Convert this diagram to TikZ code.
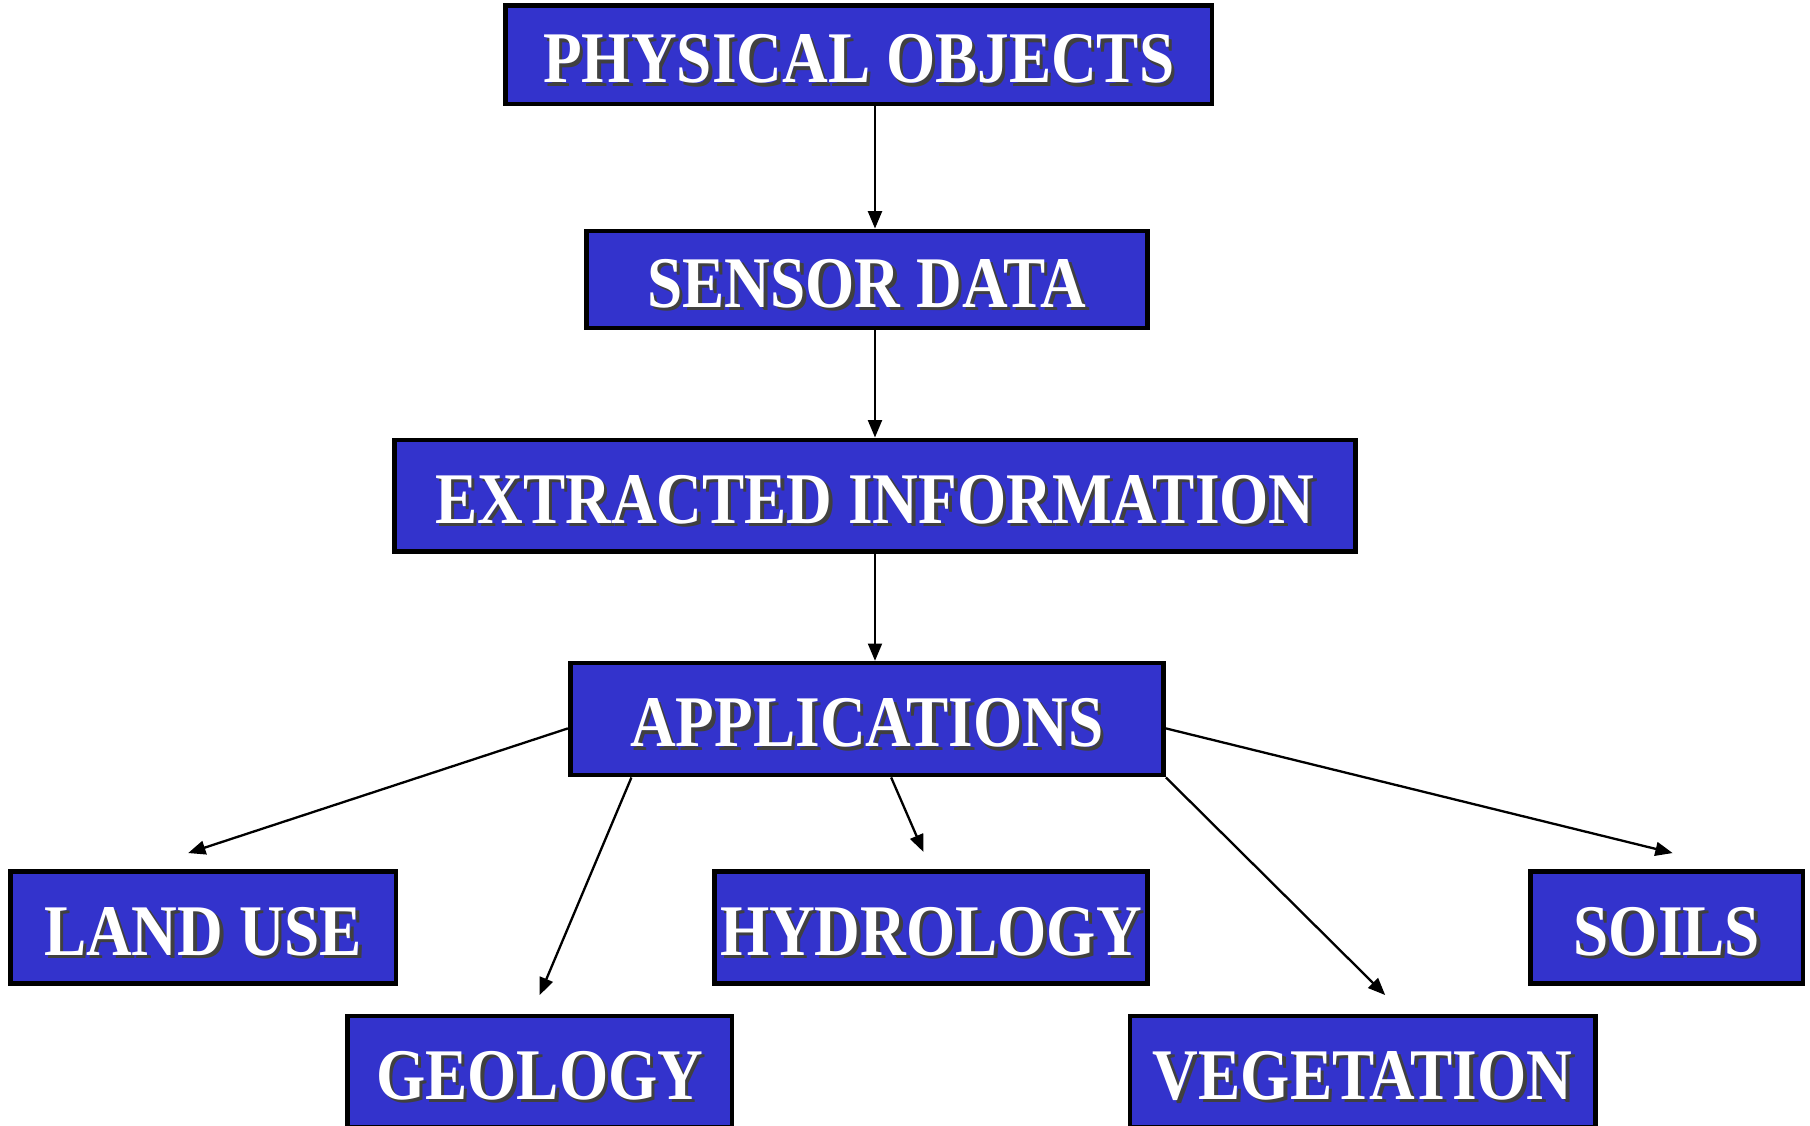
\documentclass[tikz,border=0pt]{standalone}
\usepackage{fontspec}
\newfontfamily\boxfont{Liberation Serif}[FakeStretch=0.87]
\usepackage{tikz}
\usetikzlibrary{arrows.meta,positioning,calc}
\definecolor{slideblue}{RGB}{51,51,204}
\newcommand{\shtxt}[1]{\makebox[0pt][l]{\hspace{1.5pt}\raisebox{-1.5pt}{\color{black!75}#1}}#1}

\begin{document}
\begin{tikzpicture}[x=0.5pt, y=-0.5pt,
    box/.style={draw=black, line width=2pt, fill=slideblue, text=white, inner sep=0pt, minimum height=48.5pt, text height=26pt, text depth=2pt, font=\boxfont\bfseries\fontsize{31.5pt}{32pt}\selectfont},
    arr/.style={-{Triangle[length=7.5pt,width=6pt]}, line width=1pt}
]
\useasboundingbox (0,0) rectangle (1568,975);

\node[box, minimum width=306pt, minimum height=42.5pt] (po) at (744,47.5) {\shtxt{PHYSICAL OBJECTS}};
\node[box, minimum width=243pt, minimum height=42pt] (sd) at (751,242) {\shtxt{SENSOR DATA}};
\node[box, minimum width=416pt] (ei) at (758,429.5) {\shtxt{EXTRACTED INFORMATION}};
\node[box, minimum width=257pt] (app) at (751,623) {\shtxt{APPLICATIONS}};

\node[box, minimum width=167pt] (lu) at (176,803.5) {\shtxt{LAND USE}};
\node[box, minimum width=166.5pt] (geo) at (467.5,928.5) {\shtxt{GEOLOGY}};
\node[box, minimum width=187.5pt] (hy) at (806.5,803.5) {\shtxt{HYDROLOGY}};
\node[box, minimum width=201.5pt] (veg) at (1180.5,928.5) {\shtxt{VEGETATION}};
\node[box, minimum width=118pt] (so) at (1444,803.5) {\shtxt{SOILS}};

% down the middle
\draw[arr] (po.south -| ei) -- (sd.north -| ei);
\draw[arr] (sd.south -| ei) -- (ei.north);
\draw[arr] (ei.south) -- (app.north -| ei);

% out to the applications
\draw[arr] ([yshift=-4pt]app.west) -- ([xshift=-6.5pt,yshift=7pt]lu.north);
\draw[arr] ([xshift=27.5pt]app.south west) -- ([yshift=8pt]geo.north);
\draw[arr] ([xshift=10.5pt]app.south) -- ([xshift=-3.25pt,yshift=7.5pt]hy.north);
\draw[arr] (app.south east) -- ([xshift=9.75pt,yshift=8pt]veg.north);
\draw[arr] ([yshift=-4pt]app.east) -- ([xshift=2.5pt,yshift=7pt]so.north);
\end{tikzpicture}
\end{document}
